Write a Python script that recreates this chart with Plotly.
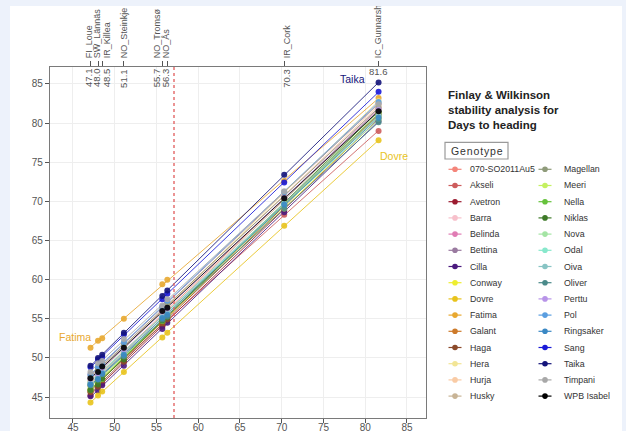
import numpy as np
import plotly.graph_objects as go

W, H = 626, 431

# ---------------- data ----------------
env_names = ["FI_Loue", "SW_Lännäs", "IR_Killea", "NO_Steinkje",
             "NO_Tromsø", "NO_Ås", "IR_Cork", "IC_Gunnarsholt"]
env_means = [47.1, 48.0, 48.5, 51.1, 55.7, 56.3, 70.3, 81.6]
env_mean_labels = ["47.1", "48.0", "48.5", "51.1", "55.7", "56.3", "70.3", "81.6"]
grand_mean = 57.1

genotypes = ["070-SO2011Au5", "Akseli", "Avetron", "Barra", "Belinda", "Bettina",
             "Cilla", "Conway", "Dovre", "Fatima", "Galant", "Haga", "Hera",
             "Hurja", "Husky", "Magellan", "Meeri", "Nella", "Niklas", "Nova",
             "Odal", "Oiva", "Oliver", "Perttu", "Pol", "Ringsaker", "Sang",
             "Taika", "Timpani", "WPB Isabel"]

colors = ["#f4857a", "#cd5c5c", "#9b1b30", "#f7c0cb", "#e07cb4", "#9a7aa0",
          "#4b1a7e", "#eeee30", "#e8c31c", "#e8a830", "#cd7a2a", "#8b4a2a",
          "#f2e596", "#f9cba5", "#c8b496", "#8f9b7a", "#c4f060", "#66c23c",
          "#3e7a28", "#a4e4a4", "#88e8cc", "#88c4c4", "#4a8a8a", "#b894e8",
          "#5a9ee0", "#3a88c4", "#1a1ad8", "#14147a", "#a8a8a8", "#000000"]

# days to heading of each genotype, one list per environment (genotype order above)
FI_Loue = [46.9, 45.9, 45.2, 47.6, 46.4, 47.9, 45.1, 45.9, 44.3, 51.3, 45.7, 45.6, 47.1, 47.2, 46.7,
           47.5, 46.3, 45.9, 45.9, 46.6, 46.9, 46.7, 46.5, 47.3, 47.8, 46.6, 48.8, 49.0, 48.2, 47.4]
SW_Lannas = [47.6, 47.0, 46.3, 48.3, 47.5, 48.6, 45.8, 47.0, 45.2, 52.2, 46.8, 46.3, 47.8, 48.3, 47.4,
             48.6, 47.0, 47.0, 46.6, 47.3, 48.0, 47.8, 47.2, 48.0, 48.9, 47.3, 49.8, 50.0, 49.3, 48.2]
IR_Killea = [48.3, 47.3, 46.7, 49.0, 47.8, 49.3, 46.5, 47.3, 45.7, 52.5, 47.2, 47.1, 48.6, 48.6, 48.1,
             48.9, 47.7, 47.3, 47.4, 48.0, 48.3, 48.1, 47.9, 48.7, 49.2, 48.0, 50.1, 50.4, 49.6, 48.9]
NO_Steinkje = [50.8, 49.9, 49.5, 51.4, 50.6, 51.7, 49.0, 50.1, 48.2, 55.0, 50.0, 49.5, 51.1, 51.5, 50.6,
               51.7, 50.1, 50.2, 49.8, 50.4, 51.0, 50.9, 50.2, 51.1, 52.0, 50.4, 53.0, 53.2, 52.4, 51.3]
NO_Tromso = [55.6, 54.1, 54.0, 56.2, 55.0, 56.5, 53.7, 54.5, 52.6, 59.4, 54.5, 54.4, 56.0, 55.9, 55.4,
             56.1, 54.9, 54.7, 54.8, 55.2, 55.2, 55.2, 54.9, 55.9, 56.5, 55.1, 57.5, 57.9, 56.7, 56.0]
NO_As = [56.0, 54.9, 54.8, 56.6, 55.8, 57.0, 54.5, 55.3, 53.2, 60.0, 55.4, 54.9, 56.5, 56.7, 55.8,
         56.9, 55.3, 55.5, 55.2, 55.6, 56.0, 56.0, 55.3, 56.3, 57.3, 55.5, 58.2, 58.6, 57.5, 56.4]
IR_Cork = [70.4, 68.3, 68.9, 70.8, 69.6, 71.2, 68.6, 69.1, 66.9, 72.6, 69.5, 69.5, 71.2, 70.7, 70.2,
           70.6, 69.6, 69.6, 69.9, 69.7, 69.4, 69.7, 69.1, 70.5, 71.2, 69.6, 72.4, 73.4, 71.3, 70.4]
IC_Gunnarsholt = [81.8, 79.0, 80.6, 82.0, 81.0, 82.5, 80.3, 80.5, 77.8, 83.2, 81.2, 81.0, 82.8, 82.3, 81.6,
                  82.0, 80.8, 81.3, 81.5, 80.9, 80.5, 81.0, 80.1, 81.7, 82.7, 80.7, 84.0, 85.2, 82.4, 81.5]

env_columns = [FI_Loue, SW_Lannas, IR_Killea, NO_Steinkje, NO_Tromso, NO_As, IR_Cork, IC_Gunnarsholt]

x_ticks = [45, 50, 55, 60, 65, 70, 75, 80, 85]
y_ticks = [45, 50, 55, 60, 65, 70, 75, 80, 85]

labelled = {"Taika": (-26, 3), "Dovre": (15, -16), "Fatima": (-16, 11)}

# ---------------- styling / layout helpers ----------------
FONT = "Liberation Sans, Arial, sans-serif"
X_RANGE = [42.25, 87.28]
Y_RANGE = [42.32, 87.17]
PLOT_L, PLOT_R, PLOT_T, PLOT_B = 50, 426, 67, 418
PX_PER_X = (PLOT_R - PLOT_L) / (X_RANGE[1] - X_RANGE[0])
label_nudge_px = [-1.5, -1, 5, 0, -5, -1, 2.5, 0]


def pxx(p):
    return p / W


def pxy(p):
    return 1 - p / H


fig = go.Figure()

env_arr = np.array(env_means)
xs_line = np.array([env_arr.min(), env_arr.max()])
for i, g in enumerate(genotypes):
    vals = np.array([col[i] for col in env_columns])
    slope, icpt = np.polyfit(env_arr, vals, 1)
    fig.add_trace(go.Scatter(
        x=xs_line, y=icpt + slope * xs_line, mode="lines",
        line=dict(color=colors[i], width=1.0), opacity=0.85,
        showlegend=False, hoverinfo="skip"))
for i, g in enumerate(genotypes):
    vals = [col[i] for col in env_columns]
    fig.add_trace(go.Scatter(
        x=env_means, y=vals, mode="markers", name=g,
        marker=dict(color=colors[i], size=6, opacity=0.9),
        showlegend=False))

# dummy traces for the top axes
fig.add_trace(go.Scatter(x=[env_means[0]], y=[None], xaxis="x2", showlegend=False, hoverinfo="skip"))
fig.add_trace(go.Scatter(x=[env_means[0]], y=[None], xaxis="x3", showlegend=False, hoverinfo="skip"))

shapes = []
annotations = []

# panel background
shapes.append(dict(type="rect", xref="paper", yref="paper", layer="below",
                   x0=pxx(10), x1=pxx(622), y0=0, y1=pxy(6),
                   fillcolor="white", line=dict(width=0)))
shapes.append(dict(type="rect", xref="paper", yref="paper", layer="above",
                   x0=0, x1=1, y0=pxy(6), y1=1,
                   fillcolor="#edf2fb", line=dict(width=0)))

# mean environment line
shapes.append(dict(type="line", xref="x", yref="y domain", x0=grand_mean, x1=grand_mean,
                   y0=0, y1=1, line=dict(color="#e05a5a", width=1.3, dash="dot")))

# environment mean value labels inside the top of the panel
for e, lab, nud in zip(env_means, env_mean_labels, label_nudge_px):
    horiz = e == max(env_means)
    annotations.append(dict(
        x=e, xref="x", xshift=nud, y=pxy(71 if horiz else 78), yref="paper",
        text=lab, showarrow=False, textangle=0 if horiz else -90,
        xanchor="center", yanchor="middle",
        font=dict(family=FONT, size=9.5, color="#555555")))

# direct labels for some genotypes
for g, (dx, dy) in labelled.items():
    i = genotypes.index(g)
    annotations.append(dict(
        x=env_means[-1] if g != "Fatima" else env_means[0],
        y=IC_Gunnarsholt[i] if g != "Fatima" else FI_Loue[i],
        xref="x", yref="y", xshift=dx, yshift=dy, text=g, showarrow=False,
        font=dict(family=FONT, size=10.5, color=colors[i])))

# legend title block
annotations.append(dict(
    x=pxx(446), y=pxy(86.5), xref="paper", yref="paper", xanchor="left", yanchor="top",
    align="left", showarrow=False,
    text="<b>Finlay & Wilkinson<br>stability analysis for<br>Days to heading</b>",
    font=dict(family=FONT, size=11.5, color="#222222")))
shapes.append(dict(type="rect", xref="paper", yref="paper",
                   x0=pxx(445), x1=pxx(508), y0=pxy(159), y1=pxy(142.3),
                   line=dict(color="#9a9a9a", width=1.2), fillcolor="white"))
annotations.append(dict(
    x=pxx(476.5), y=pxy(150.8), xref="paper", yref="paper", xanchor="center", yanchor="middle",
    showarrow=False, text="\u200a".join("Genotype"),
    font=dict(family=FONT, size=10.5, color="#333333")))

# manual two-column legend
n_col = 15
row0, drow = 169.3, 16.2
for i, g in enumerate(genotypes):
    col, row = divmod(i, n_col)
    cy = row0 + row * drow
    mx = 455 if col == 0 else 545
    tx = 468 if col == 0 else 561.5
    shapes.append(dict(type="line", xref="paper", yref="paper",
                       x0=pxx(mx - 6.5), x1=pxx(mx + 6.5), y0=pxy(cy), y1=pxy(cy),
                       line=dict(color=colors[i], width=1.2)))
    r = 2.8
    shapes.append(dict(type="circle", xref="paper", yref="paper",
                       x0=pxx(mx - r), x1=pxx(mx + r), y0=pxy(cy + r), y1=pxy(cy - r),
                       fillcolor=colors[i], line=dict(width=0)))
    annotations.append(dict(
        x=pxx(tx), y=pxy(cy), xref="paper", yref="paper", xanchor="left", yanchor="middle",
        showarrow=False, text=g, font=dict(family=FONT, size=8.8, color="#333333")))

axis_common = dict(
    automargin=False,
    ticks="outside", ticklen=4, tickcolor="#555555", tickwidth=1,
    showline=True, linecolor="#7a7a7a", linewidth=1.3, mirror=True,
    showgrid=True, gridcolor="#eeeeee", gridwidth=0.8, zeroline=False,
    tickfont=dict(family=FONT, size=10, color="#555555"))

fig.update_layout(
    width=W, height=H,
    margin=dict(l=0, r=0, t=0, b=0, pad=0, autoexpand=False),
    paper_bgcolor="#edf2fb",
    plot_bgcolor="#fcfcfc",
    showlegend=False,
    xaxis=dict(domain=[pxx(PLOT_L), pxx(PLOT_R)], range=X_RANGE,
               tickmode="array", tickvals=x_ticks, ticklabelstandoff=-4,
               ticktext=[str(v) for v in x_ticks], **axis_common),
    yaxis=dict(domain=[pxy(PLOT_B), pxy(PLOT_T)], range=Y_RANGE,
               tickmode="array", tickvals=y_ticks,
               ticktext=[str(v) for v in y_ticks], **axis_common),
    xaxis2=dict(overlaying="x", side="top", anchor="y", range=X_RANGE, automargin=False,
                tickmode="array", tickvals=env_means, ticktext=[""] * len(env_means),
                ticks="outside", ticklen=5, tickcolor="#555555",
                showline=False, showgrid=False, zeroline=False),
    xaxis3=dict(overlaying="x", side="top", anchor="y", range=X_RANGE, automargin=False,
                tickmode="array",
                tickvals=[e + n / PX_PER_X for e, n in zip(env_means, label_nudge_px)],
                ticktext=env_names, tickangle=-90,
                ticks="outside", ticklen=6, tickcolor="rgba(0,0,0,0)",
                showline=False, showgrid=False, zeroline=False,
                tickfont=dict(family=FONT, size=9, color="#555555")),
    shapes=shapes,
    annotations=annotations,
)

fig.write_html(
    "out.html",
    config={"displayModeBar": False},
    post_script="document.body.style.margin='0px';document.body.style.background='#edf2fb';",
)
